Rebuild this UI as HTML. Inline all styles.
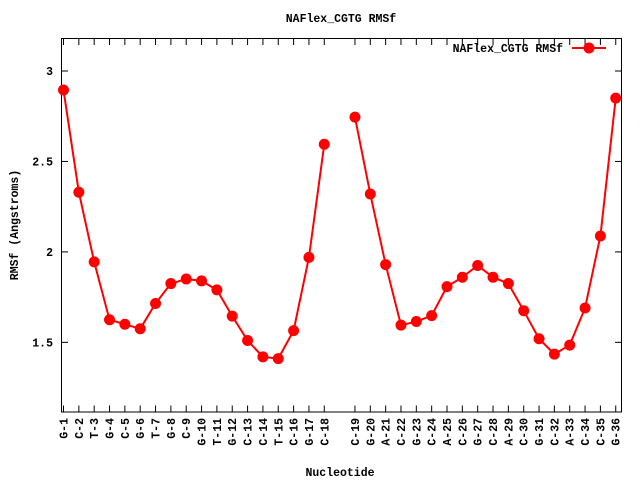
<!DOCTYPE html>
<html><head><meta charset="utf-8"><style>
body{margin:0;background:#fff}
svg text{font-family:"Liberation Mono",monospace;font-weight:bold;font-size:11.5px;fill:#000}
</style></head><body>
<svg width="640" height="480" xmlns="http://www.w3.org/2000/svg">
<rect width="640" height="480" fill="#fff"/>
<text x="341" y="22" text-anchor="middle">NAFlex_CGTG RMSf</text>
<text transform="translate(18,225) rotate(-90)" text-anchor="middle">RMSf (Angstroms)</text>
<text x="340" y="476" text-anchor="middle">Nucleotide</text>
<rect x="61.5" y="38.5" width="560" height="373.5" fill="none" stroke="#000"/>
<g id="axes"></g>
<g id="series"></g>
<g>
<text x="563" y="52" text-anchor="end">NAFlex_CGTG RMSf</text>
<line x1="572" y1="48" x2="606" y2="48" stroke="#f00" stroke-width="2"/>
<circle cx="589" cy="48" r="5.5" fill="#f00"/>
</g>
</svg>
<script>
const labels=["G-1","C-2","T-3","G-4","C-5","G-6","T-7","G-8","C-9","G-10","T-11","G-12","C-13","C-14","T-15","C-16","G-17","C-18","C-19","G-20","A-21","C-22","G-23","C-24","A-25","C-26","G-27","C-28","A-29","C-30","G-31","C-32","A-33","C-34","C-35","G-36"];
const positions=[0,1,2,3,4,5,6,7,8,9,10,11,12,13,14,15,16,17,19,20,21,22,23,24,25,26,27,28,29,30,31,32,33,34,35,36];
const values=[2.895,2.33,1.945,1.625,1.60,1.575,1.715,1.825,1.85,1.84,1.79,1.645,1.51,1.42,1.41,1.565,1.97,2.595,2.745,2.32,1.93,1.595,1.615,1.648,1.808,1.86,1.925,1.86,1.825,1.675,1.52,1.435,1.485,1.69,2.088,2.85];
const yTicks=[1.5,2,2.5,3];
const NS="http://www.w3.org/2000/svg";
function X(i){return 63.5+i*15.34;}
function Y(v){return 71+(3-v)*180.9;}
function mk(t,a,p){const e=document.createElementNS(NS,t);for(const k in a)e.setAttribute(k,a[k]);p.appendChild(e);return e;}
const ax=document.getElementById('axes');
yTicks.forEach(v=>{
 const y=Y(v);
 const l=mk('line',{x1:61.5,x2:68,y1:y,y2:y,stroke:'#000'},ax);
 
 
 const r=mk('line',{x1:615,x2:621.5,y1:y,y2:y,stroke:'#000'},ax);
 
 
 const t=mk('text',{x:53,y:y+4,'text-anchor':'end'},ax);
 t.textContent=String(v);
 
 
});
labels.forEach((lab,k)=>{
 const x=X(positions[k]);
 const b=mk('line',{x1:x,x2:x,y1:412,y2:405.5,stroke:'#000'},ax);
 
 
 const tp=mk('line',{x1:x,x2:x,y1:38.5,y2:45,stroke:'#000'},ax);
 
 
 const t=mk('text',{transform:`translate(${x+4},418) rotate(-90)`,'text-anchor':'end'},ax);
 t.textContent=lab;
 
 
});
const s=document.getElementById('series');
let seg=[];
const segs=[];
positions.forEach((p,k)=>{
 if(k>0 && p-positions[k-1]>1){segs.push(seg);seg=[];}
 seg.push(X(p)+','+Y(values[k]));
});
segs.push(seg);
segs.forEach(sg=>{
 const pl=mk('polyline',{points:sg.join(' '),fill:'none',stroke:'#f00','stroke-width':2},s);
 
 
});
positions.forEach((p,k)=>{
 const c=mk('circle',{cx:X(p),cy:Y(values[k]),r:5.5,fill:'#f00'},s);
 
 
});
</script>
</body></html>
